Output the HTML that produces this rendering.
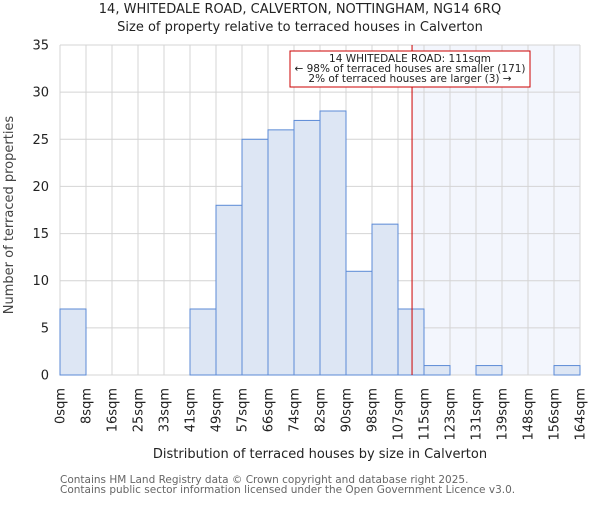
<!DOCTYPE html>
<html><head><meta charset="utf-8"><style>
body{margin:0;background:#fff;}
svg{font-family:"DejaVu Sans","Liberation Sans",sans-serif;}
</style></head><body>
<svg id="chart" width="600" height="500" viewBox="0 0 600 500">
<text x="300" y="13" text-anchor="middle" font-size="13" fill="#222">14, WHITEDALE ROAD, CALVERTON, NOTTINGHAM, NG14 6RQ</text>
<text x="300" y="31" text-anchor="middle" font-size="13" fill="#222">Size of property relative to terraced houses in Calverton</text>
<g id="grid"></g><g id="bars"></g><g id="axes"></g>
<text x="320" y="458" text-anchor="middle" font-size="13" fill="#222">Distribution of terraced houses by size in Calverton</text>
<text transform="translate(13,215) rotate(-90)" text-anchor="middle" font-size="13" fill="#444">Number of terraced properties</text>
<text x="60" y="483" font-size="10.5" fill="#666">Contains HM Land Registry data © Crown copyright and database right 2025.</text>
<text x="60" y="493" font-size="10.5" fill="#666">Contains public sector information licensed under the Open Government Licence v3.0.</text>
</svg>
<script>
const binLabels=["0sqm","8sqm","16sqm","25sqm","33sqm","41sqm","49sqm","57sqm","66sqm","74sqm","82sqm","90sqm","98sqm","107sqm","115sqm","123sqm","131sqm","139sqm","148sqm","156sqm","164sqm"];
const counts=[7,0,0,0,0,7,18,25,26,27,28,11,16,7,1,0,1,0,0,1];
const yTicks=[0,5,10,15,20,25,30,35];
const markerBin=13.54;
const NS="http://www.w3.org/2000/svg";
const L=60,R=580,T=45,B=375,yMax=35;
const bw=(R-L)/counts.length;
const xs=i=>L+i*bw;
const ys=v=>B-(v/yMax)*(B-T);
function mk(tag,attrs,parent){const e=document.createElementNS(NS,tag);for(const k in attrs)e.setAttribute(k,attrs[k]);parent.appendChild(e);return e;}
const grid=document.getElementById('grid'),bars=document.getElementById('bars'),axes=document.getElementById('axes');
const mx=xs(markerBin);
const sh=mk('rect',{x:mx,y:T,width:R-mx,height:B-T,fill:'#f3f6fd'},grid);


for(let i=0;i<binLabels.length;i++){
  const g=mk('line',{x1:xs(i),x2:xs(i),y1:T,y2:B,stroke:'#d4d4d4','stroke-width':1},grid);
  
  
  const t=mk('text',{transform:`translate(${xs(i)+4.5},388) rotate(-90)`,'text-anchor':'end','font-size':13,fill:'#222'},axes);
  t.textContent=binLabels[i];
  
  
}
yTicks.forEach(v=>{
  const g=mk('line',{x1:L,x2:R,y1:ys(v),y2:ys(v),stroke:'#d4d4d4','stroke-width':1},grid);
  
  
  const t=mk('text',{x:L-11,y:ys(v)+4.5,'text-anchor':'end','font-size':13,fill:'#222'},axes);
  t.textContent=v;
  
  
});
counts.forEach((c,i)=>{
  if(c<=0)return;
  const r=mk('rect',{x:xs(i),y:ys(c),width:bw,height:B-ys(c),fill:'#dde6f4',stroke:'#5b8ad6','stroke-width':1},bars);
  
  
});
const ml=mk('line',{x1:mx,x2:mx,y1:T,y2:B,stroke:'#cc0000','stroke-width':1},axes);


const box=mk('rect',{x:290,y:51,width:240,height:36,fill:'#fff',stroke:'#cc0000','stroke-width':1},axes);


["14 WHITEDALE ROAD: 111sqm","← 98% of terraced houses are smaller (171)","2% of terraced houses are larger (3) →"].forEach((s,k)=>{
  const t=mk('text',{x:410,y:62+k*10,'text-anchor':'middle','font-size':10.5,fill:'#222'},axes);
  t.textContent=s;
  
  
});
</script>
</body></html>
